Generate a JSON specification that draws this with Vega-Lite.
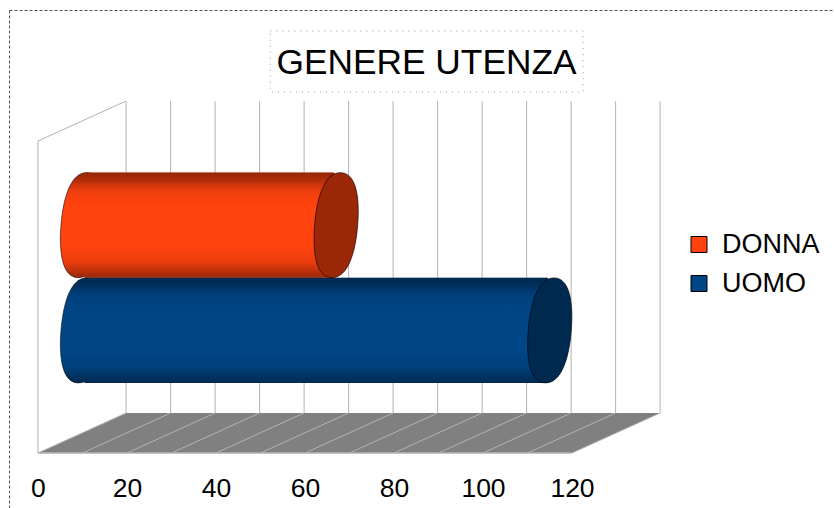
{
"$schema":"https://vega.github.io/schema/vega-lite/v6.json",
"width":834,"height":508,"padding":0,"autosize":{"type":"none"},
"background":"white",
"config":{"view":{"stroke":null},"font":"Liberation Sans"},
"title":{"text":"GENERE UTENZA","font":"Liberation Sans","fontSize":35.3,"fontWeight":"normal","color":"#000000","anchor":"middle","frame":"group","dx":9.5,"offset":-109,"baseline":"alphabetic"},
"datasets":{
"valori":[{"genere":"DONNA","valore":57},{"genere":"UOMO","valore":105}],
"griglia":[{"tacca":0,"retro":19.8},{"tacca":10,"retro":29.8},{"tacca":20,"retro":39.8},{"tacca":30,"retro":49.8},{"tacca":40,"retro":59.8},{"tacca":50,"retro":69.8},{"tacca":60,"retro":79.8},{"tacca":70,"retro":89.8},{"tacca":80,"retro":99.8},{"tacca":90,"retro":109.8},{"tacca":100,"retro":119.8},{"tacca":110,"retro":129.8},{"tacca":120,"retro":139.8}],
"pavimento":[{"quota":0,"da":0,"a":120},{"quota":40,"da":19.8,"a":139.8}]
},
"layer":[
{"layer":[
{"data":{"name":"griglia"},
 "mark":{"type":"rule","stroke":"#b3b3b3","strokeWidth":1},
 "encoding":{"x":{"field":"retro","type":"quantitative","title":null,"axis":{"values":[0,20,40,60,80,100,120],"title":null,"domain":false,"ticks":false,"grid":false,"labelFont":"Liberation Sans","labelFontSize":26.5,"labelColor":"#000000","labelPadding":0,"offset":-33,"labelOverlap":false,"labelFlush":false},"scale":{"domain":[-8.539,178.876],"range":[0,834],"nice":false,"zero":false}},"y":{"datum":40,"type":"quantitative","axis":null,"scale":{"domain":[-55,453],"range":[508,0],"nice":false,"zero":false}},"y2":{"datum":352}}},
{"data":{"values":[{"x":-6.4,"x2":178.9,"y":442.5,"y2":442.5},{"x":-6.4,"x2":-6.4,"y":442.5,"y2":-55}]},
 "mark":{"type":"rule","stroke":"#555555","strokeWidth":1,"strokeDash":[3,2]},
 "encoding":{"x":{"field":"x","type":"quantitative"},"x2":{"field":"x2"},"y":{"field":"y","type":"quantitative"},"y2":{"field":"y2"}}},
{"data":{"values":[{"x":52.2,"x2":122.5,"y":422,"y2":361}]},
 "mark":{"type":"rect","fillOpacity":0,"stroke":"#999999","strokeWidth":1,"strokeDash":[1,5]},
 "encoding":{"x":{"field":"x","type":"quantitative"},"x2":{"field":"x2"},"y":{"field":"y","type":"quantitative"},"y2":{"field":"y2"}}},
{"data":{"values":[{"x":0,"x2":0,"y":0,"y2":312},{"x":0,"x2":19.8,"y":312,"y2":352}]},
 "mark":{"type":"rule","stroke":"#b3b3b3","strokeWidth":1},
 "encoding":{"x":{"field":"x","type":"quantitative"},"x2":{"field":"x2"},"y":{"field":"y","type":"quantitative"},"y2":{"field":"y2"}}},
{"data":{"name":"pavimento"},
 "mark":{"type":"area","orient":"horizontal","color":"#808080"},
 "encoding":{"y":{"field":"quota","type":"quantitative"},"x":{"field":"da","type":"quantitative"},"x2":{"field":"a"}}},
{"data":{"name":"griglia"},
 "mark":{"type":"rule","stroke":"#b3b3b3","strokeWidth":1},
 "encoding":{"x":{"field":"tacca","type":"quantitative"},"x2":{"field":"retro"},"y":{"datum":0,"type":"quantitative"},"y2":{"datum":40}}},
{"data":{"values":[{"x":0,"x2":120,"y":0}]},
 "mark":{"type":"rule","stroke":"#b3b3b3","strokeWidth":1.5},
 "encoding":{"x":{"field":"x","type":"quantitative"},"x2":{"field":"x2"},"y":{"field":"y","type":"quantitative"}}}
]},
{"data":{"name":"valori"},
"encoding":{"y":{"field":"genere","type":"nominal","axis":null,"scale":{"type":"band","domain":["DONNA","UOMO"],"range":[172.5,383],"paddingInner":0,"paddingOuter":0}}},
"layer":[
{"mark":{"type":"point","filled":true,"opacity":1,"size":11025,"xOffset":44.5,"stroke":"#000000","strokeOpacity":0.55,"strokeWidth":1,
  "shape":"M0.41,0C0.366,0.552 0.215,1 -0.08,1C-0.375,1 -0.454,0.552 -0.41,0C-0.366,-0.552 -0.215,-1 0.08,-1C0.375,-1 0.454,-0.552 0.41,0Z"},
 "encoding":{"x":{"datum":0,"type":"quantitative"},
  "color":{"field":"genere","type":"nominal","scale":{"domain":["DONNA","UOMO"],"range":["#ff420e","#004586"]},
   "legend":{"title":null,"orient":"none","legendX":685.5,"legendY":231,"symbolType":"square","symbolSize":256,"symbolStrokeColor":"#333333","symbolStrokeWidth":1,"symbolOpacity":1,"labelFont":"Liberation Sans","labelFontSize":27,"labelColor":"#000000","labelOffset":9.5,"rowPadding":11}}}},
{"mark":{"type":"point","filled":true,"opacity":1,"size":11025,"xOffset":44.5,"strokeWidth":0,
  "shape":"M0.41,0C0.366,0.552 0.215,1 -0.08,1C-0.375,1 -0.454,0.552 -0.41,0C-0.366,-0.552 -0.215,-1 0.08,-1C0.375,-1 0.454,-0.552 0.41,0Z",
  "color":{"gradient":"linear","x1":0,"y1":0,"x2":0,"y2":1,"stops":[{"offset":0,"color":"rgba(0,0,0,0.42)"},{"offset":0.08,"color":"rgba(0,0,0,0.3)"},{"offset":0.11,"color":"rgba(0,0,0,0.2)"},{"offset":0.17,"color":"rgba(0,0,0,0.07)"},{"offset":0.3,"color":"rgba(0,0,0,0)"},{"offset":0.7,"color":"rgba(0,0,0,0)"},{"offset":0.85,"color":"rgba(0,0,0,0.08)"},{"offset":1,"color":"rgba(0,0,0,0.4)"}]}},
 "encoding":{"x":{"datum":0,"type":"quantitative"}}},
{"mark":{"type":"rect","xOffset":42.5,"x2Offset":46.5},
 "encoding":{"x":{"field":"valore","type":"quantitative"},"x2":{"datum":0},
  "color":{"field":"genere","type":"nominal"}}},
{"mark":{"type":"rect","xOffset":42.5,"x2Offset":46.5,
  "color":{"gradient":"linear","x1":0,"y1":0,"x2":0,"y2":1,"stops":[{"offset":0,"color":"rgba(0,0,0,0.42)"},{"offset":0.08,"color":"rgba(0,0,0,0.3)"},{"offset":0.11,"color":"rgba(0,0,0,0.2)"},{"offset":0.17,"color":"rgba(0,0,0,0.07)"},{"offset":0.3,"color":"rgba(0,0,0,0)"},{"offset":0.7,"color":"rgba(0,0,0,0)"},{"offset":0.85,"color":"rgba(0,0,0,0.08)"},{"offset":1,"color":"rgba(0,0,0,0.4)"}]}},
 "encoding":{"x":{"field":"valore","type":"quantitative"},"x2":{"datum":0}}},
{"mark":{"type":"point","filled":true,"opacity":1,"size":11025,"xOffset":44.5,"stroke":"#000000","strokeOpacity":0.6,"strokeWidth":1,
  "shape":"M0.41,0C0.366,0.552 0.215,1 -0.08,1C-0.375,1 -0.454,0.552 -0.41,0C-0.366,-0.552 -0.215,-1 0.08,-1C0.375,-1 0.454,-0.552 0.41,0Z"},
 "encoding":{"x":{"field":"valore","type":"quantitative"},"color":{"field":"genere","type":"nominal"}}},
{"mark":{"type":"point","filled":true,"color":"#000000","opacity":0.4,"size":11025,"xOffset":44.5,"strokeWidth":0,
  "shape":"M0.41,0C0.366,0.552 0.215,1 -0.08,1C-0.375,1 -0.454,0.552 -0.41,0C-0.366,-0.552 -0.215,-1 0.08,-1C0.375,-1 0.454,-0.552 0.41,0Z"},
 "encoding":{"x":{"field":"valore","type":"quantitative"}}}
]}
],
"resolve":{"scale":{"y":"independent"}}
}
